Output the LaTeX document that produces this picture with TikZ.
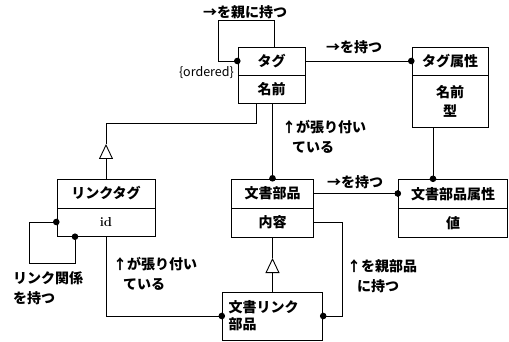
\documentclass[tikz,border=0pt]{standalone}
\usepackage{fontspec}
\newfontfamily\cjk{Noto Sans CJK JP}
\usetikzlibrary{arrows.meta}
\tikzset{
  box/.style={draw,line width=0.9pt,inner sep=0pt,font=\cjk\fontsize{14}{17}\selectfont\bfseries},
  lbl/.style={inner sep=0pt,font=\cjk\fontsize{14}{20}\selectfont\bfseries,align=left},
  conn/.style={line width=0.9pt},
  assoc/.style={conn,-{Circle[length=6.5pt]},shorten >=-3pt},
  gen/.style={conn,-{Triangle[open,length=15pt,width=14pt,line width=0.9pt]}},
}
\begin{document}
\begin{tikzpicture}[x=1pt,y=-1pt]
\useasboundingbox (0,0) rectangle (509,342);
% Tag
\node[box,minimum width=67,minimum height=28] (tagH) at (271.5,61) {タグ};
\node[box,minimum width=67,minimum height=28] (tagB) at (271.5,89) {名前};
% Tag attribute
\node[box,minimum width=76,minimum height=28] (taH) at (450,61) {タグ属性};
\node[box,minimum width=76,minimum height=52,align=center,font=\cjk\fontsize{14}{19}\selectfont\bfseries] (taB) at (450,101) {名前\\型};
% Document part attribute
\node[box,minimum width=109,minimum height=29] (dpaH) at (453,194) {文書部品属性};
\node[box,minimum width=109,minimum height=29] (dpaB) at (453,223) {値};
% Document part
\node[box,minimum width=82,minimum height=29] (dpH) at (272.5,193.5) {文書部品};
\node[box,minimum width=82,minimum height=29] (dpB) at (272.5,222.5) {内容};
% Link tag
\node[box,minimum width=98,minimum height=29] (ltH) at (106,193.5) {リンクタグ};
\node[box,minimum width=98,minimum height=28,font=\rmfamily\fontsize{13}{14}\selectfont\bfseries] (ltB) at (106,222) {id};
% Document link part
\node[box,minimum width=100,minimum height=48,align=left,text width=88] (dlp) at (272.5,316) {文書リンク\\部品};

% tag self loop
\coordinate (c1) at (218,20);
\draw[assoc] ([xshift=2.5]tagH.north) |- (c1) |- (tagH.west);
\node[lbl] (l1) at (245,12) {→を親に持つ};
\node[inner sep=0pt,font=\cjk\fontsize{12.5}{14}\selectfont,anchor=east] (ord) at (234,73) {\{ordered\}};
% tag -> tag attribute
\draw[assoc] (tagH.east) -- (taH.west);
\node[lbl] (l2) at (354,47) {→を持つ};
% tag attribute -> doc part attribute
\draw[assoc] ([xshift=-17]taB.south) -- ([xshift=-17]taB.south |- dpaH.north);
% tag -> doc part
\draw[assoc] (tagB.south -| dpH.north) -- (dpH.north);
\node[lbl,anchor=north west] (l3) at (282,120) {↑が張り付い\\\hspace{0.7em}ている};
% generalization tag <- link tag
\coordinate (g1) at (106,144);
\coordinate (g1b) at (256,123);
\draw[gen] (ltH.north) -- (g1);
\draw[conn] (g1) |- (g1b) -- (g1b |- tagB.south);
% doc part -> doc part attribute
\draw[assoc] (dpH.east) -- (dpH.east -| dpaH.west);
\node[lbl] (l4) at (355,182) {→を持つ};
% generalization doc part <- doc link part
\coordinate (g2) at (272.5,258);
\draw[gen] (dlp.north) -- (g2);
\draw[conn] (g2) -- (dpB.south);
% doc part -> doc link part (parent)
\coordinate (c3) at (342,316);
\draw[assoc] (dpB.east) -| (c3) -- (dlp.east);
\node[lbl,anchor=north west] (l5) at (347,259) {↑を親部品\\\hspace{0.7em}に持つ};
% link tag self loop
\coordinate (c4) at (29,263);
\draw[conn,{Circle[length=6.5pt]}-{Circle[length=6.5pt]},shorten <=-3pt,shorten >=-3pt] (ltB.west) -| (c4) -| ([xshift=-31]ltB.south);
\node[lbl,anchor=north west] (l6) at (13,271) {リンク関係\\を持つ};
% link tag -> doc part link
\draw[assoc] (ltB.south) |- (dlp.west);
\node[lbl,anchor=north west] (l7) at (113,257) {↑が張り付い\\\hspace{0.7em}ている};
\end{tikzpicture}
\end{document}
